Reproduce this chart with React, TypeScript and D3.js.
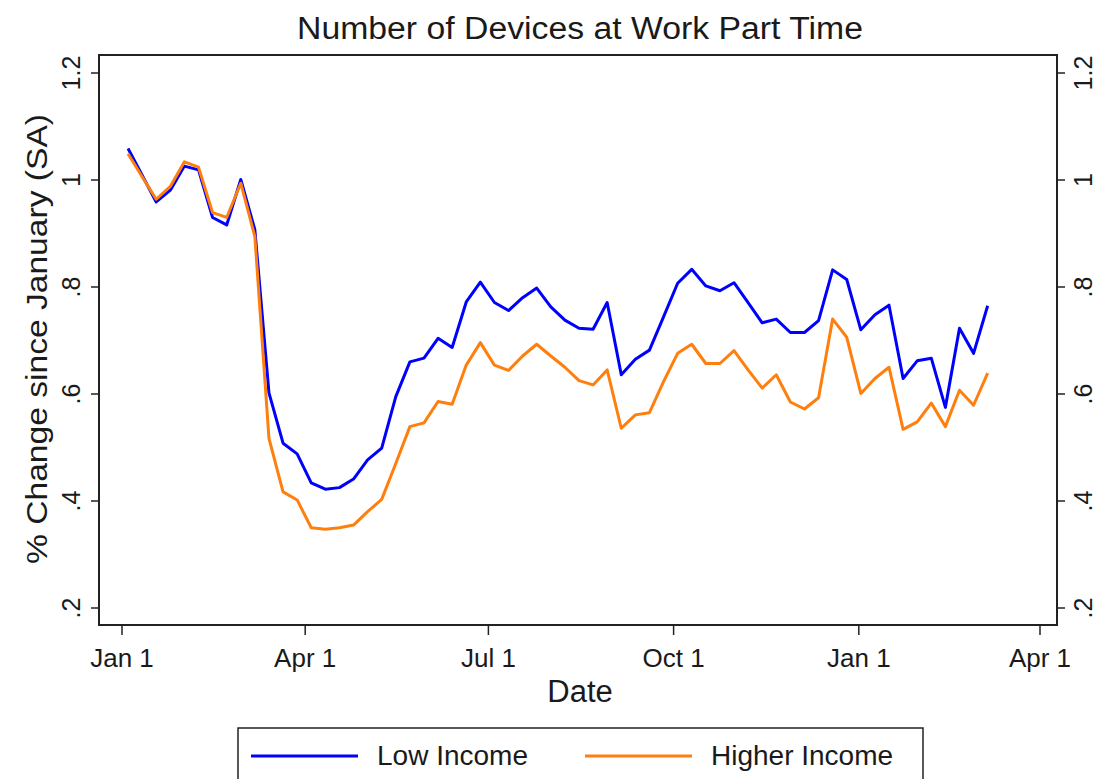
import React from 'react';
import * as d3 from 'd3';

const WIDTH = 1101;
const HEIGHT = 779;
const FONT = '"Liberation Sans", Arial, sans-serif';

const weeks = [
  '2020-01-04', '2020-01-11', '2020-01-18', '2020-01-25', '2020-02-01', '2020-02-08', '2020-02-15',
  '2020-02-22', '2020-02-29', '2020-03-07', '2020-03-14', '2020-03-21', '2020-03-28', '2020-04-04',
  '2020-04-11', '2020-04-18', '2020-04-25', '2020-05-02', '2020-05-09', '2020-05-16', '2020-05-23',
  '2020-05-30', '2020-06-06', '2020-06-13', '2020-06-20', '2020-06-27', '2020-07-04', '2020-07-11',
  '2020-07-18', '2020-07-25', '2020-08-01', '2020-08-08', '2020-08-15', '2020-08-22', '2020-08-29',
  '2020-09-05', '2020-09-12', '2020-09-19', '2020-09-26', '2020-10-03', '2020-10-10', '2020-10-17',
  '2020-10-24', '2020-10-31', '2020-11-07', '2020-11-14', '2020-11-21', '2020-11-28', '2020-12-05',
  '2020-12-12', '2020-12-19', '2020-12-26', '2021-01-02', '2021-01-09', '2021-01-16', '2021-01-23',
  '2021-01-30', '2021-02-06', '2021-02-13', '2021-02-20', '2021-02-27', '2021-03-06',
];

const lowIncome = [
  1.059, 1.009, 0.959, 0.981, 1.026, 1.019, 0.93, 0.916, 1.001, 0.907, 0.602, 0.508, 0.488,
  0.434, 0.422, 0.425, 0.441, 0.477, 0.499, 0.595, 0.66, 0.667, 0.704, 0.687, 0.772, 0.809,
  0.771, 0.756, 0.78, 0.798, 0.763, 0.738, 0.723, 0.721, 0.771, 0.636, 0.665, 0.682, 0.744,
  0.807, 0.833, 0.802, 0.793, 0.808, 0.771, 0.733, 0.74, 0.715, 0.715, 0.737, 0.832, 0.814,
  0.72, 0.748, 0.766, 0.629, 0.662, 0.667, 0.575, 0.723, 0.676, 0.765,
];

const higherIncome = [
  1.049, 1.006, 0.964, 0.988, 1.034, 1.024, 0.939, 0.93, 0.994, 0.894, 0.517, 0.417, 0.402,
  0.35, 0.347, 0.35, 0.355, 0.38, 0.403, 0.47, 0.539, 0.546, 0.586, 0.581, 0.654, 0.696,
  0.654, 0.644, 0.671, 0.693, 0.671, 0.65, 0.625, 0.617, 0.645, 0.536, 0.561, 0.565, 0.623,
  0.676, 0.693, 0.657, 0.657, 0.681, 0.645, 0.611, 0.636, 0.585, 0.572, 0.593, 0.74, 0.706,
  0.601, 0.629, 0.65, 0.534, 0.548, 0.583, 0.539, 0.607, 0.579, 0.639,
];

const xTicks = ['2020-01-01', '2020-04-01', '2020-07-01', '2020-10-01', '2021-01-01', '2021-04-01'];
const xTickLabels = ['Jan 1', 'Apr 1', 'Jul 1', 'Oct 1', 'Jan 1', 'Apr 1'];
const yTicks = [0.2, 0.4, 0.6, 0.8, 1, 1.2];

const series = [
  { label: 'Low Income', values: lowIncome, color: '#0000ff' },
  { label: 'Higher Income', values: higherIncome, color: '#ff7f0e' },
];

const FRAME = { left: 99, right: 1057, top: 55, bottom: 625 };

export default function App() {
  const parse = d3.timeParse('%Y-%m-%d');
  const dates = weeks.map(d => parse(d) as Date);
  const tickDates = xTicks.map(d => parse(d) as Date);

  const x = d3.scaleTime()
    .domain([tickDates[0], tickDates[tickDates.length - 1]])
    .range([122, 1040]);
  const y = d3.scaleLinear().domain([0.2, 1.2]).range([608, 73]);

  const fmtY = (v: number) => d3.format('.1~f')(v).replace(/^0\./, '.');

  const line = (vals: number[]) =>
    d3.line<number>()
      .x((_, i) => x(dates[i]))
      .y(v => y(v))(vals) || '';

  const plotH = FRAME.bottom - FRAME.top;

  return (
    <svg width={WIDTH} height={HEIGHT} style={{ position: 'absolute', left: 0, top: 0, background: '#fff' }}
      fontFamily={FONT}>
      <rect width={WIDTH} height={HEIGHT} fill="#fff" />
      <text x={580} y={39} textAnchor="middle" fontSize={31} fill="#1a1a1a"
        textLength={566} lengthAdjust="spacingAndGlyphs">
        Number of Devices at Work Part Time
      </text>

      {/* data lines */}
      {series.map(s => (
        <path key={s.label} d={line(s.values)} fill="none" stroke={s.color} strokeWidth={3}
          strokeLinejoin="round" />
      ))}

      {/* frame */}
      <rect x={FRAME.left} y={FRAME.top} width={FRAME.right - FRAME.left} height={plotH}
        fill="none" stroke="#222" strokeWidth={2} />

      {/* y axes, both sides */}
      {yTicks.map(t => (
        <g key={t}>
          <line x1={FRAME.left - 8} x2={FRAME.left} y1={y(t)} y2={y(t)} stroke="#222" strokeWidth={1.5} />
          <text transform={`translate(80,${y(t)}) rotate(-90)`} textAnchor="middle" fontSize={25}
            fill="#1a1a1a">{fmtY(t)}</text>
          <line x1={FRAME.right} x2={FRAME.right + 8} y1={y(t)} y2={y(t)} stroke="#222" strokeWidth={1.5} />
          <text transform={`translate(1092,${y(t)}) rotate(-90)`} textAnchor="middle" fontSize={25}
            fill="#1a1a1a">{fmtY(t)}</text>
        </g>
      ))}
      <text transform={`translate(47,339) rotate(-90)`} textAnchor="middle"
        fontSize={30} fill="#1a1a1a" textLength={450} lengthAdjust="spacingAndGlyphs">
        % Change since January (SA)
      </text>

      {/* x axis */}
      {tickDates.map((d, i) => (
        <g key={i}>
          <line x1={x(d)} x2={x(d)} y1={FRAME.bottom} y2={FRAME.bottom + 10} stroke="#222" strokeWidth={1.5} />
          <text x={x(d)} y={667} textAnchor="middle" fontSize={26} fill="#1a1a1a">{xTickLabels[i]}</text>
        </g>
      ))}
      <text x={580} y={702} textAnchor="middle" fontSize={31} fill="#1a1a1a">Date</text>

      {/* legend */}
      <rect x={238} y={728} width={685} height={70} fill="#fff" stroke="#222" strokeWidth={1.5} />
      {series.map((s, i) => {
        const lx = i === 0 ? 251 : 585;
        return (
          <g key={s.label}>
            <line x1={lx} x2={lx + 107} y1={756} y2={756} stroke={s.color} strokeWidth={3} />
            <text x={lx + 126} y={765} fontSize={28} fill="#1a1a1a">{s.label}</text>
          </g>
        );
      })}
    </svg>
  );
}
